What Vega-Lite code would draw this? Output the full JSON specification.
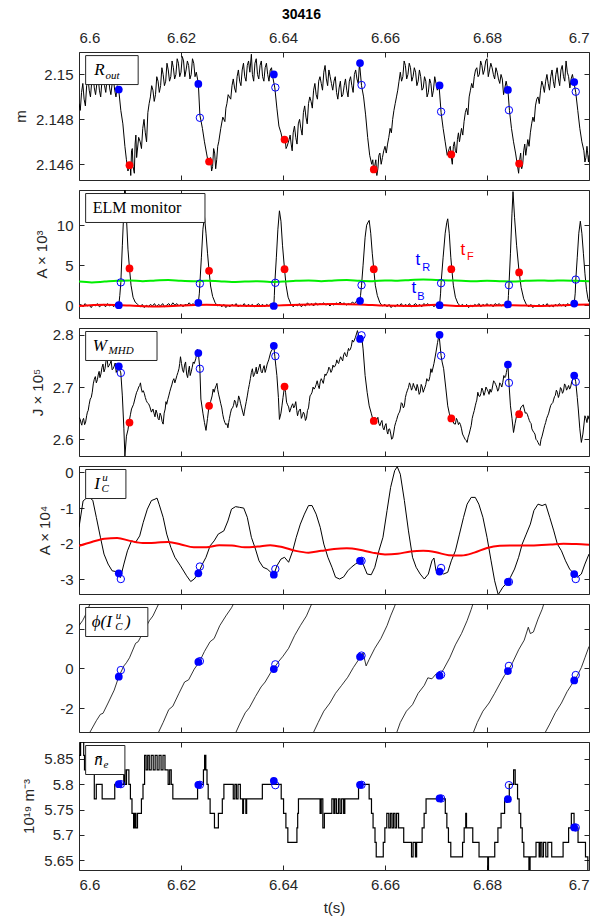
{
"$schema":"https://vega.github.io/schema/vega-lite/v6.json",
"padding":{"left":12,"top":7,"right":5,"bottom":5},
"title":{"text":"30416","font":"Liberation Sans","fontSize":14,"fontWeight":"bold","color":"#000000","anchor":"middle","offset":8},
"spacing":10,
"bounds":"flush",
"datasets":{
"p1":[{"t":6.6,"v":2.1487},{"t":6.6005,"v":2.1492},{"t":6.601,"v":2.1489},{"t":6.6015,"v":2.1495},{"t":6.602,"v":2.1493},{"t":6.6025,"v":2.1497},{"t":6.603,"v":2.1494},{"t":6.6035,"v":2.1496},{"t":6.604,"v":2.1493},{"t":6.6045,"v":2.1497},{"t":6.605,"v":2.1495},{"t":6.6055,"v":2.1498},{"t":6.606,"v":2.1494},{"t":6.6065,"v":2.1496},{"t":6.607,"v":2.1493},{"t":6.6075,"v":2.1495},{"t":6.6078,"v":2.1493},{"t":6.6082,"v":2.1484},{"t":6.6086,"v":2.1478},{"t":6.609,"v":2.1468},{"t":6.6093,"v":2.1462},{"t":6.6096,"v":2.1457},{"t":6.61,"v":2.1461},{"t":6.6103,"v":2.1466},{"t":6.6106,"v":2.1459},{"t":6.611,"v":2.1469},{"t":6.6113,"v":2.1463},{"t":6.6117,"v":2.1472},{"t":6.612,"v":2.147},{"t":6.6125,"v":2.1476},{"t":6.613,"v":2.1474},{"t":6.6135,"v":2.1483},{"t":6.614,"v":2.149},{"t":6.6145,"v":2.1493},{"t":6.615,"v":2.1491},{"t":6.6155,"v":2.1497},{"t":6.616,"v":2.1495},{"t":6.6165,"v":2.15},{"t":6.617,"v":2.1497},{"t":6.6175,"v":2.1502},{"t":6.618,"v":2.1499},{"t":6.6185,"v":2.1503},{"t":6.619,"v":2.15},{"t":6.6195,"v":2.1505},{"t":6.62,"v":2.1501},{"t":6.6205,"v":2.1506},{"t":6.621,"v":2.1502},{"t":6.6215,"v":2.1504},{"t":6.622,"v":2.15},{"t":6.6225,"v":2.1505},{"t":6.623,"v":2.1501},{"t":6.6234,"v":2.1496},{"t":6.6237,"v":2.1482},{"t":6.6242,"v":2.1476},{"t":6.6246,"v":2.147},{"t":6.625,"v":2.1465},{"t":6.6254,"v":2.146},{"t":6.6258,"v":2.1463},{"t":6.6262,"v":2.1459},{"t":6.6266,"v":2.1465},{"t":6.627,"v":2.1462},{"t":6.6274,"v":2.147},{"t":6.6278,"v":2.1476},{"t":6.6282,"v":2.1481},{"t":6.6286,"v":2.1479},{"t":6.629,"v":2.1487},{"t":6.6295,"v":2.149},{"t":6.63,"v":2.1495},{"t":6.6305,"v":2.1494},{"t":6.631,"v":2.1499},{"t":6.6315,"v":2.1497},{"t":6.632,"v":2.1502},{"t":6.6325,"v":2.1499},{"t":6.633,"v":2.1504},{"t":6.6335,"v":2.1501},{"t":6.6338,"v":2.1509},{"t":6.634,"v":2.15},{"t":6.6345,"v":2.1505},{"t":6.635,"v":2.15},{"t":6.6355,"v":2.1504},{"t":6.636,"v":2.1499},{"t":6.6365,"v":2.1503},{"t":6.637,"v":2.15},{"t":6.6375,"v":2.1502},{"t":6.6379,"v":2.15},{"t":6.6384,"v":2.1494},{"t":6.6388,"v":2.1485},{"t":6.6392,"v":2.1477},{"t":6.6396,"v":2.1474},{"t":6.64,"v":2.147},{"t":6.6404,"v":2.1472},{"t":6.6408,"v":2.1468},{"t":6.6412,"v":2.1471},{"t":6.6416,"v":2.1469},{"t":6.642,"v":2.1474},{"t":6.6425,"v":2.1472},{"t":6.643,"v":2.1478},{"t":6.6435,"v":2.1476},{"t":6.644,"v":2.1483},{"t":6.6445,"v":2.1481},{"t":6.645,"v":2.1487},{"t":6.6455,"v":2.1488},{"t":6.646,"v":2.1493},{"t":6.6465,"v":2.1491},{"t":6.647,"v":2.1497},{"t":6.6475,"v":2.1496},{"t":6.648,"v":2.1501},{"t":6.6485,"v":2.1498},{"t":6.649,"v":2.1502},{"t":6.6495,"v":2.1496},{"t":6.65,"v":2.1497},{"t":6.6505,"v":2.1492},{"t":6.651,"v":2.1494},{"t":6.6515,"v":2.149},{"t":6.652,"v":2.1495},{"t":6.6525,"v":2.1493},{"t":6.653,"v":2.1497},{"t":6.6535,"v":2.1495},{"t":6.654,"v":2.15},{"t":6.6545,"v":2.1498},{"t":6.655,"v":2.1505},{"t":6.6554,"v":2.1495},{"t":6.6558,"v":2.149},{"t":6.6562,"v":2.1482},{"t":6.6566,"v":2.1472},{"t":6.657,"v":2.1464},{"t":6.6574,"v":2.146},{"t":6.6578,"v":2.1457},{"t":6.6582,"v":2.1462},{"t":6.6586,"v":2.1458},{"t":6.659,"v":2.1465},{"t":6.6595,"v":2.1463},{"t":6.66,"v":2.1468},{"t":6.6605,"v":2.1469},{"t":6.661,"v":2.1476},{"t":6.6615,"v":2.148},{"t":6.662,"v":2.1487},{"t":6.6625,"v":2.1493},{"t":6.663,"v":2.1501},{"t":6.6635,"v":2.1499},{"t":6.664,"v":2.1504},{"t":6.6645,"v":2.15},{"t":6.665,"v":2.1503},{"t":6.6655,"v":2.1499},{"t":6.666,"v":2.1501},{"t":6.6665,"v":2.1497},{"t":6.667,"v":2.1499},{"t":6.6675,"v":2.1494},{"t":6.668,"v":2.1497},{"t":6.6685,"v":2.1492},{"t":6.669,"v":2.1496},{"t":6.6695,"v":2.1493},{"t":6.67,"v":2.1496},{"t":6.6706,"v":2.1495},{"t":6.671,"v":2.1483},{"t":6.6714,"v":2.1476},{"t":6.6718,"v":2.147},{"t":6.6722,"v":2.1464},{"t":6.6726,"v":2.1467},{"t":6.673,"v":2.1463},{"t":6.6734,"v":2.1468},{"t":6.6738,"v":2.1466},{"t":6.6742,"v":2.1471},{"t":6.6746,"v":2.147},{"t":6.675,"v":2.1476},{"t":6.6755,"v":2.1479},{"t":6.676,"v":2.1485},{"t":6.6765,"v":2.149},{"t":6.677,"v":2.1496},{"t":6.6775,"v":2.1499},{"t":6.678,"v":2.1503},{"t":6.6785,"v":2.15},{"t":6.679,"v":2.1504},{"t":6.6795,"v":2.1502},{"t":6.68,"v":2.1507},{"t":6.6805,"v":2.1502},{"t":6.681,"v":2.1503},{"t":6.6815,"v":2.1498},{"t":6.682,"v":2.1501},{"t":6.6825,"v":2.1496},{"t":6.683,"v":2.1498},{"t":6.6835,"v":2.1494},{"t":6.6841,"v":2.1493},{"t":6.6844,"v":2.1484},{"t":6.6848,"v":2.1476},{"t":6.6852,"v":2.147},{"t":6.6856,"v":2.1465},{"t":6.686,"v":2.1459},{"t":6.6864,"v":2.1462},{"t":6.6868,"v":2.1458},{"t":6.6872,"v":2.1466},{"t":6.6876,"v":2.1464},{"t":6.688,"v":2.1471},{"t":6.6885,"v":2.1474},{"t":6.689,"v":2.1481},{"t":6.6895,"v":2.1486},{"t":6.69,"v":2.149},{"t":6.6905,"v":2.1493},{"t":6.691,"v":2.1495},{"t":6.6915,"v":2.1497},{"t":6.692,"v":2.1496},{"t":6.6925,"v":2.1499},{"t":6.693,"v":2.1497},{"t":6.6935,"v":2.15},{"t":6.694,"v":2.1498},{"t":6.6945,"v":2.1502},{"t":6.695,"v":2.1499},{"t":6.6955,"v":2.1506},{"t":6.696,"v":2.1499},{"t":6.6965,"v":2.1498},{"t":6.697,"v":2.1497},{"t":6.6974,"v":2.1492},{"t":6.6978,"v":2.1484},{"t":6.6982,"v":2.1476},{"t":6.6986,"v":2.147},{"t":6.699,"v":2.1466},{"t":6.6994,"v":2.1463},{"t":6.6997,"v":2.1466},{"t":6.7,"v":2.1464},
{"t":6.60025,"v":2.1484},{"t":6.60075,"v":2.1496},{"t":6.60125,"v":2.1486},{"t":6.60175,"v":2.1499},{"t":6.60225,"v":2.149},{"t":6.60275,"v":2.15},{"t":6.60325,"v":2.1491},{"t":6.60375,"v":2.1499},{"t":6.60425,"v":2.149},{"t":6.60475,"v":2.15},{"t":6.60525,"v":2.1492},{"t":6.60575,"v":2.1501},{"t":6.60625,"v":2.1491},{"t":6.60675,"v":2.1498},{"t":6.60725,"v":2.149},
{"t":6.61015,"v":2.1455},{"t":6.61045,"v":2.1467},{"t":6.61085,"v":2.1456},{"t":6.61115,"v":2.1473},{"t":6.61225,"v":2.1467},{"t":6.61275,"v":2.148},{"t":6.61325,"v":2.147},{"t":6.61375,"v":2.1487},
{"t":6.61425,"v":2.1495},{"t":6.61475,"v":2.1488},{"t":6.61525,"v":2.1499},{"t":6.61575,"v":2.1492},{"t":6.61625,"v":2.1503},{"t":6.61675,"v":2.1495},{"t":6.61725,"v":2.1505},{"t":6.61775,"v":2.1497},{"t":6.61825,"v":2.1506},{"t":6.61875,"v":2.1498},{"t":6.61925,"v":2.1507},{"t":6.61975,"v":2.1499},{"t":6.62025,"v":2.1508},{"t":6.62075,"v":2.1499},{"t":6.62125,"v":2.1506},{"t":6.62175,"v":2.1498},{"t":6.62225,"v":2.1507},{"t":6.62275,"v":2.1499},
{"t":6.626,"v":2.1457},{"t":6.6264,"v":2.1467},{"t":6.6268,"v":2.1458},{"t":6.6272,"v":2.1468},{"t":6.6288,"v":2.1485},{"t":6.62925,"v":2.1491},{"t":6.62975,"v":2.1489},{"t":6.63025,"v":2.1498},{"t":6.63075,"v":2.1492},{"t":6.63125,"v":2.1502},{"t":6.63175,"v":2.1495},{"t":6.63225,"v":2.1505},{"t":6.63275,"v":2.1497},{"t":6.63325,"v":2.1506},{"t":6.63425,"v":2.1497},{"t":6.63475,"v":2.1507},{"t":6.63525,"v":2.1498},{"t":6.63575,"v":2.1506},{"t":6.63625,"v":2.1497},{"t":6.63675,"v":2.1505},{"t":6.63725,"v":2.1497},{"t":6.63775,"v":2.1503},
{"t":6.6406,"v":2.1467},{"t":6.6414,"v":2.1473},{"t":6.6418,"v":2.1466},{"t":6.64225,"v":2.1477},{"t":6.64275,"v":2.1469},{"t":6.64325,"v":2.148},{"t":6.64375,"v":2.1473},{"t":6.64425,"v":2.1486},{"t":6.64475,"v":2.1478},{"t":6.64525,"v":2.149},{"t":6.64575,"v":2.1485},{"t":6.64625,"v":2.1496},{"t":6.64675,"v":2.1489},{"t":6.64725,"v":2.1499},{"t":6.64775,"v":2.1493},{"t":6.64825,"v":2.1504},{"t":6.64875,"v":2.1495},{"t":6.64925,"v":2.1499},{"t":6.64975,"v":2.1493},{"t":6.65025,"v":2.1499},{"t":6.65075,"v":2.1489},{"t":6.65125,"v":2.1497},{"t":6.65175,"v":2.1491},{"t":6.65225,"v":2.1498},{"t":6.65275,"v":2.149},{"t":6.65325,"v":2.1499},{"t":6.65375,"v":2.1492},{"t":6.65425,"v":2.1502},{"t":6.65475,"v":2.1496},
{"t":6.6576,"v":2.1462},{"t":6.6584,"v":2.1455},{"t":6.6588,"v":2.1464},{"t":6.65925,"v":2.146},{"t":6.65975,"v":2.1466},{"t":6.66025,"v":2.1465},{"t":6.66075,"v":2.1472},{"t":6.66125,"v":2.1474},{"t":6.66175,"v":2.1484},{"t":6.66225,"v":2.149},{"t":6.66275,"v":2.1497},{"t":6.66325,"v":2.1497},{"t":6.66375,"v":2.1506},{"t":6.66425,"v":2.1498},{"t":6.66475,"v":2.1505},{"t":6.66525,"v":2.1497},{"t":6.66575,"v":2.1503},{"t":6.66625,"v":2.1495},{"t":6.66675,"v":2.1502},{"t":6.66725,"v":2.1493},{"t":6.66775,"v":2.1499},{"t":6.66825,"v":2.149},{"t":6.66875,"v":2.1498},{"t":6.66925,"v":2.149},{"t":6.66975,"v":2.1499},{"t":6.67025,"v":2.1493},
{"t":6.6728,"v":2.1468},{"t":6.6732,"v":2.146},{"t":6.6736,"v":2.147},{"t":6.674,"v":2.1465},{"t":6.6744,"v":2.1474},{"t":6.67525,"v":2.1473},{"t":6.67575,"v":2.1483},{"t":6.67625,"v":2.1482},{"t":6.67675,"v":2.1493},{"t":6.67725,"v":2.1494},{"t":6.67775,"v":2.1502},{"t":6.67825,"v":2.1499},{"t":6.67875,"v":2.1506},{"t":6.67925,"v":2.15},{"t":6.67975,"v":2.1506},{"t":6.68025,"v":2.1499},{"t":6.68075,"v":2.1505},{"t":6.68125,"v":2.15},{"t":6.68175,"v":2.1503},{"t":6.68225,"v":2.1498},{"t":6.68275,"v":2.15},{"t":6.68325,"v":2.1491},{"t":6.68375,"v":2.1497},
{"t":6.6862,"v":2.1456},{"t":6.6866,"v":2.1465},{"t":6.687,"v":2.146},{"t":6.6874,"v":2.1469},{"t":6.68825,"v":2.1468},{"t":6.68875,"v":2.1478},{"t":6.68925,"v":2.1479},{"t":6.68975,"v":2.1489},{"t":6.69025,"v":2.1487},{"t":6.69075,"v":2.1497},{"t":6.69125,"v":2.1492},{"t":6.69175,"v":2.15},{"t":6.69225,"v":2.1493},{"t":6.69275,"v":2.1502},{"t":6.69325,"v":2.1494},{"t":6.69375,"v":2.1503},{"t":6.69425,"v":2.1495},{"t":6.69475,"v":2.1504},{"t":6.69525,"v":2.1497},{"t":6.69575,"v":2.1501},{"t":6.69625,"v":2.1494},{"t":6.69675,"v":2.15},
{"t":6.6992,"v":2.1461},{"t":6.6996,"v":2.1468},{"t":6.6999,"v":2.1461}],
"p2":[{"t":6.6,"v":-0.1},{"t":6.6004,"v":0.1},{"t":6.6008,"v":-0.2},{"t":6.6012,"v":0.2},{"t":6.6016,"v":-0.1},{"t":6.602,"v":0.0},{"t":6.6024,"v":-0.3},{"t":6.6028,"v":0.1},{"t":6.6032,"v":-0.1},{"t":6.6036,"v":0.2},{"t":6.604,"v":-0.2},{"t":6.6044,"v":0.0},{"t":6.6048,"v":0.1},{"t":6.6052,"v":-0.2},{"t":6.6056,"v":0.2},{"t":6.606,"v":-0.1},{"t":6.6064,"v":0.1},{"t":6.6068,"v":-0.2},{"t":6.6072,"v":0.2},{"t":6.6075,"v":-0.1},
{"t":6.6078,"v":0.0},{"t":6.608,"v":1.2},{"t":6.6082,"v":2.8},{"t":6.6085,"v":7.5},{"t":6.6088,"v":12},{"t":6.609,"v":15.5},{"t":6.6093,"v":11},{"t":6.6096,"v":7},{"t":6.6099,"v":4.6},{"t":6.6102,"v":2.5},{"t":6.6106,"v":1.0},{"t":6.611,"v":0.4},{"t":6.6115,"v":0.1},
{"t":6.612,"v":-0.2},{"t":6.6124,"v":0.1},{"t":6.6128,"v":-0.3},{"t":6.6132,"v":0.0},{"t":6.6136,"v":-0.2},{"t":6.614,"v":0.1},{"t":6.6144,"v":-0.1},{"t":6.6148,"v":0.2},{"t":6.6152,"v":-0.2},{"t":6.6156,"v":0.1},{"t":6.616,"v":-0.1},{"t":6.6164,"v":0.2},{"t":6.6168,"v":-0.2},{"t":6.6172,"v":0.0},{"t":6.6176,"v":0.2},{"t":6.618,"v":-0.1},{"t":6.6184,"v":0.3},{"t":6.6188,"v":0.0},{"t":6.6192,"v":0.2},{"t":6.6196,"v":-0.1},{"t":6.62,"v":0.1},{"t":6.6204,"v":-0.2},{"t":6.6208,"v":0.1},{"t":6.6212,"v":0.0},{"t":6.6216,"v":0.3},{"t":6.622,"v":0.0},{"t":6.6224,"v":0.2},{"t":6.6228,"v":-0.1},{"t":6.6231,"v":0.2},
{"t":6.6234,"v":0.3},{"t":6.6236,"v":1.5},{"t":6.6237,"v":2.7},{"t":6.624,"v":6},{"t":6.6243,"v":9.5},{"t":6.6246,"v":11.1},{"t":6.6249,"v":9},{"t":6.6252,"v":6.5},{"t":6.6255,"v":4.3},{"t":6.6258,"v":2.4},{"t":6.6262,"v":1.1},{"t":6.6267,"v":0.3},
{"t":6.6272,"v":-0.1},{"t":6.6276,"v":0.1},{"t":6.628,"v":-0.2},{"t":6.6284,"v":0.1},{"t":6.6288,"v":-0.3},{"t":6.6292,"v":0.0},{"t":6.6296,"v":-0.2},{"t":6.63,"v":0.1},{"t":6.6304,"v":-0.1},{"t":6.6308,"v":0.2},{"t":6.6312,"v":-0.2},{"t":6.6316,"v":0.0},{"t":6.632,"v":-0.1},{"t":6.6324,"v":0.2},{"t":6.6328,"v":-0.2},{"t":6.6332,"v":0.1},{"t":6.6336,"v":-0.1},{"t":6.634,"v":0.1},{"t":6.6344,"v":-0.2},{"t":6.6348,"v":0.0},{"t":6.6352,"v":0.2},{"t":6.6356,"v":-0.1},{"t":6.636,"v":0.1},{"t":6.6364,"v":-0.2},{"t":6.6368,"v":0.1},{"t":6.6372,"v":-0.1},{"t":6.6376,"v":0.2},{"t":6.6379,"v":-0.1},
{"t":6.6382,"v":-0.1},{"t":6.6383,"v":1.2},{"t":6.6384,"v":2.8},{"t":6.6387,"v":6},{"t":6.639,"v":9.5},{"t":6.6393,"v":11.8},{"t":6.6396,"v":10.5},{"t":6.6399,"v":7.5},{"t":6.6403,"v":4.5},{"t":6.6406,"v":2.5},{"t":6.641,"v":1.0},{"t":6.6415,"v":0.2},
{"t":6.642,"v":-0.2},{"t":6.6424,"v":0.1},{"t":6.6428,"v":-0.1},{"t":6.6432,"v":0.2},{"t":6.6436,"v":-0.2},{"t":6.644,"v":0.1},{"t":6.6444,"v":-0.1},{"t":6.6448,"v":0.3},{"t":6.6452,"v":0.0},{"t":6.6456,"v":0.2},{"t":6.646,"v":-0.1},{"t":6.6464,"v":0.3},{"t":6.6468,"v":0.0},{"t":6.6472,"v":0.2},{"t":6.6476,"v":0.1},{"t":6.648,"v":0.3},{"t":6.6484,"v":0.0},{"t":6.6488,"v":0.2},{"t":6.6492,"v":-0.1},{"t":6.6496,"v":0.2},{"t":6.65,"v":0.0},{"t":6.6504,"v":0.3},{"t":6.6508,"v":0.1},{"t":6.6512,"v":0.4},{"t":6.6516,"v":0.1},{"t":6.652,"v":0.3},{"t":6.6524,"v":0.0},{"t":6.6528,"v":0.2},{"t":6.6532,"v":0.1},{"t":6.6536,"v":0.4},{"t":6.654,"v":0.2},{"t":6.6544,"v":0.5},{"t":6.6547,"v":0.3},
{"t":6.655,"v":0.5},{"t":6.6552,"v":1.2},{"t":6.6554,"v":2.5},{"t":6.6557,"v":5},{"t":6.6561,"v":8.5},{"t":6.6564,"v":10},{"t":6.6567,"v":10.4},{"t":6.6569,"v":10.6},{"t":6.6572,"v":9},{"t":6.6575,"v":6.5},{"t":6.6578,"v":4.5},{"t":6.6581,"v":2.5},{"t":6.6585,"v":1.2},{"t":6.659,"v":0.3},
{"t":6.6595,"v":-0.1},{"t":6.66,"v":0.1},{"t":6.6604,"v":-0.2},{"t":6.6608,"v":0.1},{"t":6.6612,"v":-0.3},{"t":6.6616,"v":0.0},{"t":6.662,"v":-0.2},{"t":6.6624,"v":0.1},{"t":6.6628,"v":-0.1},{"t":6.6632,"v":0.2},{"t":6.6636,"v":-0.2},{"t":6.664,"v":0.1},{"t":6.6644,"v":-0.1},{"t":6.6648,"v":0.2},{"t":6.6652,"v":-0.2},{"t":6.6656,"v":0.0},{"t":6.666,"v":0.2},{"t":6.6664,"v":-0.1},{"t":6.6668,"v":0.1},{"t":6.6672,"v":-0.2},{"t":6.6676,"v":0.2},{"t":6.668,"v":0.0},{"t":6.6684,"v":0.2},{"t":6.6688,"v":-0.1},{"t":6.6692,"v":0.1},{"t":6.6696,"v":-0.2},{"t":6.67,"v":0.1},{"t":6.6704,"v":-0.1},
{"t":6.6707,"v":0.0},{"t":6.6709,"v":1.5},{"t":6.671,"v":2.8},{"t":6.6714,"v":6},{"t":6.6718,"v":9},{"t":6.6721,"v":10.3},{"t":6.6723,"v":10.8},{"t":6.6726,"v":9},{"t":6.6729,"v":6},{"t":6.6731,"v":4.5},{"t":6.6734,"v":2.5},{"t":6.6738,"v":1.0},{"t":6.6743,"v":0.2},
{"t":6.6748,"v":-0.1},{"t":6.6752,"v":0.1},{"t":6.6756,"v":-0.2},{"t":6.676,"v":0.1},{"t":6.6764,"v":-0.3},{"t":6.6768,"v":0.0},{"t":6.6772,"v":-0.2},{"t":6.6776,"v":0.1},{"t":6.678,"v":-0.1},{"t":6.6784,"v":0.2},{"t":6.6788,"v":-0.2},{"t":6.6792,"v":0.1},{"t":6.6796,"v":-0.1},{"t":6.68,"v":0.2},{"t":6.6804,"v":-0.1},{"t":6.6808,"v":0.1},{"t":6.6812,"v":-0.2},{"t":6.6816,"v":0.2},{"t":6.682,"v":0.0},{"t":6.6824,"v":0.2},{"t":6.6828,"v":-0.1},{"t":6.6832,"v":0.1},{"t":6.6836,"v":-0.1},{"t":6.6839,"v":0.2},
{"t":6.6841,"v":0.1},{"t":6.6842,"v":1.2},{"t":6.6843,"v":2.4},{"t":6.6846,"v":6.5},{"t":6.6849,"v":11.5},{"t":6.6851,"v":14.2},{"t":6.6854,"v":11},{"t":6.6858,"v":7.5},{"t":6.6863,"v":4.1},{"t":6.6867,"v":2.2},{"t":6.6872,"v":0.8},{"t":6.6877,"v":0.1},
{"t":6.6882,"v":-0.2},{"t":6.6886,"v":0.1},{"t":6.689,"v":-0.3},{"t":6.6894,"v":0.0},{"t":6.6898,"v":-0.2},{"t":6.6902,"v":0.1},{"t":6.6906,"v":-0.2},{"t":6.691,"v":0.1},{"t":6.6914,"v":-0.1},{"t":6.6918,"v":0.2},{"t":6.6922,"v":-0.2},{"t":6.6926,"v":0.0},{"t":6.693,"v":-0.2},{"t":6.6934,"v":0.1},{"t":6.6938,"v":-0.1},{"t":6.6942,"v":0.2},{"t":6.6946,"v":-0.1},{"t":6.695,"v":0.1},{"t":6.6954,"v":-0.2},{"t":6.6958,"v":0.2},{"t":6.6962,"v":0.0},{"t":6.6966,"v":0.1},{"t":6.6969,"v":-0.1},
{"t":6.6971,"v":0.2},{"t":6.6973,"v":1.5},{"t":6.6974,"v":3.1},{"t":6.6977,"v":6},{"t":6.698,"v":9},{"t":6.6983,"v":10.5},{"t":6.6986,"v":9},{"t":6.6989,"v":6.5},{"t":6.6992,"v":4},{"t":6.6995,"v":2},{"t":6.6998,"v":0.8},{"t":6.7,"v":0.4}],
"p2g":[{"t":6.6,"v":2.95},{"t":6.6025,"v":2.85},{"t":6.605,"v":2.95},{"t":6.6075,"v":3.05},{"t":6.61,"v":3.1},{"t":6.6125,"v":3.0},{"t":6.615,"v":3.1},{"t":6.6175,"v":3.15},{"t":6.62,"v":3.05},{"t":6.6225,"v":3.0},{"t":6.625,"v":3.05},{"t":6.6275,"v":3.0},{"t":6.63,"v":2.9},{"t":6.6325,"v":2.95},{"t":6.635,"v":3.0},{"t":6.6375,"v":2.9},{"t":6.64,"v":2.95},{"t":6.6425,"v":3.05},{"t":6.645,"v":3.1},{"t":6.6475,"v":3.0},{"t":6.65,"v":3.1},{"t":6.6525,"v":3.15},{"t":6.655,"v":3.05},{"t":6.6575,"v":3.0},{"t":6.66,"v":3.1},{"t":6.6625,"v":3.05},{"t":6.665,"v":3.15},{"t":6.6675,"v":3.2},{"t":6.67,"v":3.15},{"t":6.6725,"v":3.1},{"t":6.675,"v":3.05},{"t":6.6775,"v":3.0},{"t":6.68,"v":3.05},{"t":6.6825,"v":3.0},{"t":6.685,"v":2.95},{"t":6.6875,"v":3.05},{"t":6.69,"v":3.1},{"t":6.6925,"v":3.05},{"t":6.695,"v":3.1},{"t":6.6975,"v":3.05},{"t":6.7,"v":3.0}],
"p2r":[{"t":6.6,"v":-0.1},{"t":6.605,"v":0.05},{"t":6.61,"v":-0.05},{"t":6.615,"v":-0.15},{"t":6.62,"v":-0.05},{"t":6.625,"v":0.05},{"t":6.63,"v":-0.05},{"t":6.635,"v":-0.1},{"t":6.64,"v":0.0},{"t":6.645,"v":0.1},{"t":6.65,"v":0.15},{"t":6.655,"v":0.1},{"t":6.66,"v":-0.05},{"t":6.665,"v":-0.1},{"t":6.67,"v":0.05},{"t":6.675,"v":-0.1},{"t":6.68,"v":-0.05},{"t":6.685,"v":0.0},{"t":6.69,"v":-0.1},{"t":6.695,"v":0.0},{"t":6.7,"v":0.1}],
"p3":[{"t":6.6,"v":2.642},{"t":6.6004,"v":2.631},{"t":6.6007,"v":2.636},{"t":6.6011,"v":2.628},{"t":6.6015,"v":2.645},{"t":6.6018,"v":2.655},{"t":6.6022,"v":2.677},{"t":6.6026,"v":2.69},{"t":6.603,"v":2.715},{"t":6.6034,"v":2.708},{"t":6.6038,"v":2.725},{"t":6.6041,"v":2.718},{"t":6.6045,"v":2.737},{"t":6.6049,"v":2.729},{"t":6.6053,"v":2.75},{"t":6.6057,"v":2.738},{"t":6.6061,"v":2.745},{"t":6.6065,"v":2.733},{"t":6.6069,"v":2.74},{"t":6.6073,"v":2.728},{"t":6.6078,"v":2.738},{"t":6.6082,"v":2.727},{"t":6.6085,"v":2.683},{"t":6.6088,"v":2.62},{"t":6.609,"v":2.568},{"t":6.6093,"v":2.606},{"t":6.6096,"v":2.618},{"t":6.6098,"v":2.632},{"t":6.6101,"v":2.648},{"t":6.6103,"v":2.658},{"t":6.6107,"v":2.667},{"t":6.6111,"v":2.683},{"t":6.6115,"v":2.694},{"t":6.6119,"v":2.703},{"t":6.6122,"v":2.698},{"t":6.6126,"v":2.693},{"t":6.613,"v":2.68},{"t":6.6134,"v":2.67},{"t":6.6139,"v":2.662},{"t":6.6145,"v":2.658},{"t":6.6149,"v":2.643},{"t":6.6153,"v":2.65},{"t":6.6157,"v":2.637},{"t":6.6161,"v":2.645},{"t":6.6165,"v":2.629},{"t":6.6169,"v":2.658},{"t":6.6172,"v":2.667},{"t":6.6176,"v":2.683},{"t":6.618,"v":2.698},{"t":6.6184,"v":2.712},{"t":6.6188,"v":2.708},{"t":6.6192,"v":2.722},{"t":6.6196,"v":2.735},{"t":6.6199,"v":2.758},{"t":6.6203,"v":2.733},{"t":6.6207,"v":2.742},{"t":6.6211,"v":2.725},{"t":6.6215,"v":2.733},{"t":6.6218,"v":2.722},{"t":6.6222,"v":2.738},{"t":6.6226,"v":2.745},{"t":6.6229,"v":2.754},{"t":6.6232,"v":2.772},{"t":6.6234,"v":2.765},{"t":6.6237,"v":2.735},{"t":6.6239,"v":2.677},{"t":6.6243,"v":2.65},{"t":6.6246,"v":2.632},{"t":6.6249,"v":2.617},{"t":6.6252,"v":2.64},{"t":6.6255,"v":2.664},{"t":6.6258,"v":2.672},{"t":6.6261,"v":2.683},{"t":6.6265,"v":2.69},{"t":6.6269,"v":2.703},{"t":6.6272,"v":2.695},{"t":6.6276,"v":2.677},{"t":6.628,"v":2.66},{"t":6.6284,"v":2.638},{"t":6.6288,"v":2.628},{"t":6.6292,"v":2.622},{"t":6.6295,"v":2.64},{"t":6.6299,"v":2.658},{"t":6.6303,"v":2.665},{"t":6.6307,"v":2.671},{"t":6.6311,"v":2.668},{"t":6.6315,"v":2.677},{"t":6.6319,"v":2.66},{"t":6.6323,"v":2.645},{"t":6.6326,"v":2.662},{"t":6.633,"v":2.683},{"t":6.6334,"v":2.705},{"t":6.6338,"v":2.728},{"t":6.6342,"v":2.72},{"t":6.6346,"v":2.731},{"t":6.6349,"v":2.725},{"t":6.6353,"v":2.738},{"t":6.6357,"v":2.73},{"t":6.6361,"v":2.735},{"t":6.6365,"v":2.728},{"t":6.6369,"v":2.744},{"t":6.6372,"v":2.752},{"t":6.6376,"v":2.767},{"t":6.6379,"v":2.772},{"t":6.6382,"v":2.779},{"t":6.6384,"v":2.759},{"t":6.6386,"v":2.74},{"t":6.6388,"v":2.722},{"t":6.6391,"v":2.68},{"t":6.6393,"v":2.638},{"t":6.6396,"v":2.65},{"t":6.6398,"v":2.664},{"t":6.64,"v":2.68},{"t":6.6403,"v":2.701},{"t":6.6405,"v":2.69},{"t":6.6407,"v":2.671},{"t":6.6411,"v":2.662},{"t":6.6415,"v":2.658},{"t":6.6419,"v":2.668},{"t":6.6423,"v":2.664},{"t":6.6427,"v":2.655},{"t":6.643,"v":2.651},{"t":6.6434,"v":2.658},{"t":6.6438,"v":2.645},{"t":6.6442,"v":2.648},{"t":6.6446,"v":2.64},{"t":6.645,"v":2.66},{"t":6.6453,"v":2.683},{"t":6.6457,"v":2.69},{"t":6.6461,"v":2.696},{"t":6.6465,"v":2.705},{"t":6.6469,"v":2.703},{"t":6.6473,"v":2.71},{"t":6.6477,"v":2.712},{"t":6.6481,"v":2.718},{"t":6.6484,"v":2.722},{"t":6.6488,"v":2.73},{"t":6.6492,"v":2.735},{"t":6.6496,"v":2.732},{"t":6.65,"v":2.738},{"t":6.6504,"v":2.745},{"t":6.6507,"v":2.747},{"t":6.6511,"v":2.752},{"t":6.6515,"v":2.754},{"t":6.6519,"v":2.762},{"t":6.6523,"v":2.76},{"t":6.6527,"v":2.768},{"t":6.653,"v":2.77},{"t":6.6534,"v":2.778},{"t":6.6538,"v":2.786},{"t":6.6542,"v":2.795},{"t":6.6546,"v":2.808},{"t":6.655,"v":2.792},{"t":6.6554,"v":2.799},{"t":6.6557,"v":2.773},{"t":6.6561,"v":2.722},{"t":6.6565,"v":2.69},{"t":6.6569,"v":2.664},{"t":6.6573,"v":2.65},{"t":6.6577,"v":2.635},{"t":6.658,"v":2.642},{"t":6.6584,"v":2.638},{"t":6.6588,"v":2.63},{"t":6.6592,"v":2.632},{"t":6.6596,"v":2.622},{"t":6.66,"v":2.626},{"t":6.6604,"v":2.615},{"t":6.6607,"v":2.619},{"t":6.6611,"v":2.612},{"t":6.6615,"v":2.602},{"t":6.6619,"v":2.625},{"t":6.6623,"v":2.638},{"t":6.6627,"v":2.65},{"t":6.663,"v":2.658},{"t":6.6634,"v":2.668},{"t":6.6638,"v":2.664},{"t":6.6642,"v":2.688},{"t":6.6646,"v":2.699},{"t":6.665,"v":2.703},{"t":6.6654,"v":2.699},{"t":6.6657,"v":2.702},{"t":6.6661,"v":2.693},{"t":6.6665,"v":2.698},{"t":6.6669,"v":2.69},{"t":6.6673,"v":2.7},{"t":6.6677,"v":2.696},{"t":6.668,"v":2.705},{"t":6.6684,"v":2.712},{"t":6.6688,"v":2.72},{"t":6.6692,"v":2.728},{"t":6.6696,"v":2.745},{"t":6.67,"v":2.767},{"t":6.6703,"v":2.785},{"t":6.6706,"v":2.8},{"t":6.671,"v":2.76},{"t":6.6712,"v":2.748},{"t":6.6715,"v":2.735},{"t":6.6719,"v":2.7},{"t":6.6723,"v":2.664},{"t":6.6726,"v":2.65},{"t":6.6729,"v":2.64},{"t":6.6733,"v":2.636},{"t":6.6738,"v":2.629},{"t":6.6742,"v":2.636},{"t":6.6746,"v":2.632},{"t":6.675,"v":2.62},{"t":6.6754,"v":2.606},{"t":6.6757,"v":2.6},{"t":6.6761,"v":2.594},{"t":6.6765,"v":2.61},{"t":6.6769,"v":2.626},{"t":6.6773,"v":2.648},{"t":6.6777,"v":2.664},{"t":6.678,"v":2.675},{"t":6.6784,"v":2.683},{"t":6.6788,"v":2.688},{"t":6.6792,"v":2.693},{"t":6.6796,"v":2.69},{"t":6.68,"v":2.696},{"t":6.6804,"v":2.686},{"t":6.6808,"v":2.69},{"t":6.6811,"v":2.702},{"t":6.6815,"v":2.709},{"t":6.6819,"v":2.7},{"t":6.6823,"v":2.696},{"t":6.6827,"v":2.705},{"t":6.6831,"v":2.709},{"t":6.6835,"v":2.718},{"t":6.6838,"v":2.728},{"t":6.6841,"v":2.743},{"t":6.6843,"v":2.708},{"t":6.6846,"v":2.664},{"t":6.6849,"v":2.64},{"t":6.6852,"v":2.613},{"t":6.6855,"v":2.63},{"t":6.6858,"v":2.645},{"t":6.686,"v":2.65},{"t":6.6863,"v":2.648},{"t":6.6866,"v":2.66},{"t":6.6869,"v":2.664},{"t":6.6873,"v":2.658},{"t":6.6877,"v":2.651},{"t":6.6881,"v":2.642},{"t":6.6885,"v":2.632},{"t":6.6888,"v":2.62},{"t":6.6892,"v":2.613},{"t":6.6896,"v":2.6},{"t":6.69,"v":2.594},{"t":6.6904,"v":2.588},{"t":6.6908,"v":2.606},{"t":6.6911,"v":2.618},{"t":6.6915,"v":2.632},{"t":6.6919,"v":2.645},{"t":6.6923,"v":2.658},{"t":6.6927,"v":2.668},{"t":6.6931,"v":2.677},{"t":6.6934,"v":2.684},{"t":6.6938,"v":2.69},{"t":6.6942,"v":2.686},{"t":6.6946,"v":2.696},{"t":6.695,"v":2.692},{"t":6.6954,"v":2.703},{"t":6.6958,"v":2.698},{"t":6.6962,"v":2.696},{"t":6.6966,"v":2.71},{"t":6.6969,"v":2.718},{"t":6.6971,"v":2.722},{"t":6.6974,"v":2.71},{"t":6.6977,"v":2.68},{"t":6.6979,"v":2.658},{"t":6.6982,"v":2.62},{"t":6.6985,"v":2.594},{"t":6.6988,"v":2.61},{"t":6.6992,"v":2.645},{"t":6.6996,"v":2.632},{"t":6.7,"v":2.638},
{"t":6.60025,"v":2.638},{"t":6.60055,"v":2.627},{"t":6.6009,"v":2.64},{"t":6.6013,"v":2.633},{"t":6.60165,"v":2.652},{"t":6.602,"v":2.667},{"t":6.6024,"v":2.68},{"t":6.6028,"v":2.706},{"t":6.6032,"v":2.72},{"t":6.6036,"v":2.714},{"t":6.60395,"v":2.73},{"t":6.6043,"v":2.725},{"t":6.6047,"v":2.744},{"t":6.6051,"v":2.735},{"t":6.6055,"v":2.755},{"t":6.6059,"v":2.741},{"t":6.6063,"v":2.75},{"t":6.6067,"v":2.735},{"t":6.6071,"v":2.746},{"t":6.60755,"v":2.734},
{"t":6.6113,"v":2.69},{"t":6.6117,"v":2.7},{"t":6.61205,"v":2.708},{"t":6.6124,"v":2.69},{"t":6.6128,"v":2.688},{"t":6.6132,"v":2.674},{"t":6.61365,"v":2.668},{"t":6.6142,"v":2.652},{"t":6.6147,"v":2.65},{"t":6.6151,"v":2.656},{"t":6.6155,"v":2.64},{"t":6.6159,"v":2.65},{"t":6.6163,"v":2.634},{"t":6.6167,"v":2.65},{"t":6.61705,"v":2.672},{"t":6.6174,"v":2.676},{"t":6.6178,"v":2.691},{"t":6.6182,"v":2.704},{"t":6.6186,"v":2.716},{"t":6.619,"v":2.715},{"t":6.6194,"v":2.728},{"t":6.61975,"v":2.745},{"t":6.6201,"v":2.745},{"t":6.6205,"v":2.728},{"t":6.6209,"v":2.748},{"t":6.6213,"v":2.718},{"t":6.62165,"v":2.74},{"t":6.622,"v":2.729},{"t":6.6224,"v":2.748},
{"t":6.6263,"v":2.696},{"t":6.6267,"v":2.698},{"t":6.62705,"v":2.707},{"t":6.6274,"v":2.685},{"t":6.6278,"v":2.668},{"t":6.6282,"v":2.647},{"t":6.6286,"v":2.632},{"t":6.629,"v":2.63},{"t":6.62935,"v":2.632},{"t":6.6297,"v":2.65},{"t":6.6301,"v":2.66},{"t":6.6305,"v":2.675},{"t":6.6309,"v":2.661},{"t":6.6313,"v":2.683},{"t":6.6317,"v":2.668},{"t":6.6321,"v":2.652},{"t":6.63245,"v":2.654},{"t":6.6328,"v":2.672},{"t":6.6332,"v":2.695},{"t":6.6336,"v":2.716},{"t":6.634,"v":2.735},{"t":6.6344,"v":2.724},{"t":6.63475,"v":2.738},{"t":6.6351,"v":2.731},{"t":6.6355,"v":2.744},{"t":6.6359,"v":2.727},{"t":6.6363,"v":2.741},{"t":6.6367,"v":2.735},{"t":6.63705,"v":2.748},
{"t":6.6409,"v":2.666},{"t":6.6413,"v":2.652},{"t":6.6417,"v":2.664},{"t":6.6421,"v":2.66},{"t":6.6425,"v":2.672},{"t":6.64285,"v":2.645},{"t":6.6432,"v":2.656},{"t":6.6436,"v":2.64},{"t":6.644,"v":2.652},{"t":6.6444,"v":2.636},{"t":6.6448,"v":2.655},{"t":6.64515,"v":2.672},{"t":6.6455,"v":2.686},{"t":6.6459,"v":2.7},{"t":6.6463,"v":2.699},{"t":6.6467,"v":2.712},{"t":6.6471,"v":2.697},{"t":6.6475,"v":2.716},{"t":6.6479,"v":2.707},{"t":6.64825,"v":2.725},{"t":6.6486,"v":2.726},{"t":6.649,"v":2.738},{"t":6.6494,"v":2.728},{"t":6.6498,"v":2.742},{"t":6.6502,"v":2.74},{"t":6.65055,"v":2.752},{"t":6.6509,"v":2.745},{"t":6.6513,"v":2.758},{"t":6.6517,"v":2.75},{"t":6.6521,"v":2.766},{"t":6.6525,"v":2.758},{"t":6.65285,"v":2.774},{"t":6.6532,"v":2.772},{"t":6.6536,"v":2.79},{"t":6.654,"v":2.79},
{"t":6.6586,"v":2.642},{"t":6.659,"v":2.626},{"t":6.6594,"v":2.636},{"t":6.6598,"v":2.618},{"t":6.6602,"v":2.63},{"t":6.66055,"v":2.61},{"t":6.6609,"v":2.62},{"t":6.6613,"v":2.6},{"t":6.6617,"v":2.612},{"t":6.6621,"v":2.632},{"t":6.6625,"v":2.645},{"t":6.66285,"v":2.652},{"t":6.6632,"v":2.67},{"t":6.6636,"v":2.66},{"t":6.664,"v":2.68},{"t":6.6644,"v":2.694},{"t":6.6648,"v":2.708},{"t":6.6652,"v":2.694},{"t":6.66555,"v":2.707},{"t":6.6659,"v":2.698},{"t":6.6663,"v":2.705},{"t":6.6667,"v":2.686},{"t":6.6671,"v":2.705},{"t":6.6675,"v":2.69},{"t":6.66785,"v":2.7},{"t":6.6682,"v":2.716},{"t":6.6686,"v":2.712},{"t":6.669,"v":2.735},
{"t":6.6731,"v":2.642},{"t":6.6735,"v":2.63},{"t":6.674,"v":2.64},{"t":6.6744,"v":2.628},{"t":6.6748,"v":2.628},{"t":6.6752,"v":2.61},{"t":6.6759,"v":2.598},{"t":6.6763,"v":2.604},{"t":6.6767,"v":2.618},{"t":6.6771,"v":2.64},{"t":6.6775,"v":2.655},{"t":6.67785,"v":2.67},{"t":6.6782,"v":2.69},{"t":6.6786,"v":2.682},{"t":6.679,"v":2.698},{"t":6.6794,"v":2.684},{"t":6.6798,"v":2.7},{"t":6.6802,"v":2.692},{"t":6.6806,"v":2.696},{"t":6.68095,"v":2.694},{"t":6.6813,"v":2.712},{"t":6.6817,"v":2.705},{"t":6.6821,"v":2.692},{"t":6.6825,"v":2.708},{"t":6.6829,"v":2.7},{"t":6.6833,"v":2.722},{"t":6.68365,"v":2.72},
{"t":6.6871,"v":2.666},{"t":6.6875,"v":2.65},{"t":6.6879,"v":2.648},{"t":6.6883,"v":2.636},{"t":6.68865,"v":2.63},{"t":6.689,"v":2.616},{"t":6.6894,"v":2.61},{"t":6.6898,"v":2.598},{"t":6.6902,"v":2.59},{"t":6.6906,"v":2.6},{"t":6.69095,"v":2.612},{"t":6.6913,"v":2.626},{"t":6.6917,"v":2.64},{"t":6.6921,"v":2.65},{"t":6.6925,"v":2.665},{"t":6.6929,"v":2.67},{"t":6.69325,"v":2.682},{"t":6.6936,"v":2.694},{"t":6.694,"v":2.68},{"t":6.6944,"v":2.699},{"t":6.6948,"v":2.688},{"t":6.6952,"v":2.706},{"t":6.6956,"v":2.694},{"t":6.696,"v":2.703},{"t":6.6964,"v":2.7},
{"t":6.6994,"v":2.64},{"t":6.6998,"v":2.645}],
"p4":[{"t":6.6,"v":-1.54},{"t":6.6008,"v":-0.8},{"t":6.6018,"v":-0.68},{"t":6.6027,"v":-0.78},{"t":6.6034,"v":-1.26},{"t":6.6042,"v":-1.82},{"t":6.6049,"v":-2.29},{"t":6.6057,"v":-2.57},{"t":6.6065,"v":-2.76},{"t":6.6072,"v":-2.78},{"t":6.6078,"v":-2.83},{"t":6.6081,"v":-2.95},{"t":6.6084,"v":-2.8},{"t":6.6088,"v":-2.57},{"t":6.6095,"v":-2.2},{"t":6.6103,"v":-1.92},{"t":6.6111,"v":-1.96},{"t":6.6119,"v":-1.78},{"t":6.6126,"v":-1.4},{"t":6.6134,"v":-1.03},{"t":6.6142,"v":-0.79},{"t":6.6149,"v":-0.75},{"t":6.6153,"v":-0.72},{"t":6.6157,"v":-0.89},{"t":6.6165,"v":-1.26},{"t":6.6172,"v":-1.73},{"t":6.618,"v":-2.1},{"t":6.6188,"v":-2.38},{"t":6.6199,"v":-2.62},{"t":6.6211,"v":-2.9},{"t":6.6219,"v":-3.06},{"t":6.6226,"v":-2.99},{"t":6.6234,"v":-2.83},{"t":6.6242,"v":-2.57},{"t":6.6249,"v":-2.38},{"t":6.6257,"v":-2.06},{"t":6.6265,"v":-1.92},{"t":6.6273,"v":-1.73},{"t":6.6284,"v":-1.64},{"t":6.6292,"v":-1.36},{"t":6.6299,"v":-1.03},{"t":6.6307,"v":-0.96},{"t":6.6315,"v":-0.98},{"t":6.6323,"v":-1.0},{"t":6.633,"v":-1.26},{"t":6.6338,"v":-1.82},{"t":6.6346,"v":-2.15},{"t":6.6353,"v":-2.48},{"t":6.6361,"v":-2.66},{"t":6.6369,"v":-2.71},{"t":6.6376,"v":-2.8},{"t":6.6382,"v":-2.87},{"t":6.6388,"v":-2.62},{"t":6.6396,"v":-2.43},{"t":6.6403,"v":-2.38},{"t":6.6411,"v":-2.52},{"t":6.6419,"v":-2.2},{"t":6.6426,"v":-1.82},{"t":6.6434,"v":-1.45},{"t":6.6442,"v":-1.17},{"t":6.645,"v":-0.93},{"t":6.6457,"v":-0.93},{"t":6.6465,"v":-1.17},{"t":6.6473,"v":-1.54},{"t":6.648,"v":-2.01},{"t":6.6488,"v":-2.38},{"t":6.6496,"v":-2.66},{"t":6.6503,"v":-2.94},{"t":6.6511,"v":-2.99},{"t":6.6519,"v":-2.93},{"t":6.6527,"v":-2.76},{"t":6.6534,"v":-2.66},{"t":6.6542,"v":-2.57},{"t":6.6552,"v":-2.48},{"t":6.6557,"v":-2.57},{"t":6.6565,"v":-2.85},{"t":6.6573,"v":-2.87},{"t":6.658,"v":-2.66},{"t":6.6588,"v":-2.2},{"t":6.6596,"v":-1.82},{"t":6.6604,"v":-1.07},{"t":6.6611,"v":-0.42},{"t":6.6619,"v":0.05},{"t":6.6624,"v":0.16},{"t":6.663,"v":-0.05},{"t":6.6638,"v":-0.79},{"t":6.6646,"v":-1.64},{"t":6.6654,"v":-2.38},{"t":6.6661,"v":-2.66},{"t":6.6669,"v":-2.85},{"t":6.6677,"v":-2.99},{"t":6.6685,"v":-2.85},{"t":6.6692,"v":-2.48},{"t":6.6696,"v":-2.4},{"t":6.67,"v":-2.76},{"t":6.6707,"v":-2.78},{"t":6.6715,"v":-2.85},{"t":6.6723,"v":-2.8},{"t":6.673,"v":-2.48},{"t":6.6738,"v":-2.2},{"t":6.6746,"v":-1.73},{"t":6.6754,"v":-1.26},{"t":6.6761,"v":-0.89},{"t":6.6769,"v":-0.7},{"t":6.6777,"v":-0.7},{"t":6.6784,"v":-0.89},{"t":6.6792,"v":-1.26},{"t":6.68,"v":-1.82},{"t":6.6808,"v":-2.48},{"t":6.6815,"v":-3.04},{"t":6.6822,"v":-3.43},{"t":6.6831,"v":-3.22},{"t":6.6841,"v":-3.07},{"t":6.6846,"v":-2.94},{"t":6.6854,"v":-2.71},{"t":6.6862,"v":-2.38},{"t":6.6869,"v":-2.01},{"t":6.6877,"v":-1.73},{"t":6.6885,"v":-1.45},{"t":6.6892,"v":-1.07},{"t":6.69,"v":-0.89},{"t":6.6908,"v":-0.93},{"t":6.6915,"v":-0.89},{"t":6.6923,"v":-1.26},{"t":6.6931,"v":-1.64},{"t":6.6938,"v":-2.01},{"t":6.6946,"v":-2.2},{"t":6.6954,"v":-2.48},{"t":6.6962,"v":-2.71},{"t":6.6971,"v":-2.85},{"t":6.6977,"v":-2.94},{"t":6.6985,"v":-2.85},{"t":6.6992,"v":-2.57},{"t":6.7,"v":-2.29}],
"p4r":[{"t":6.6,"v":-2.06},{"t":6.6025,"v":-1.95},{"t":6.605,"v":-1.86},{"t":6.6075,"v":-1.84},{"t":6.61,"v":-1.92},{"t":6.6125,"v":-1.98},{"t":6.615,"v":-1.97},{"t":6.6175,"v":-1.95},{"t":6.62,"v":-2.02},{"t":6.6225,"v":-2.1},{"t":6.625,"v":-2.1},{"t":6.6275,"v":-2.04},{"t":6.63,"v":-2.05},{"t":6.6325,"v":-2.1},{"t":6.635,"v":-2.08},{"t":6.6375,"v":-2.04},{"t":6.64,"v":-2.1},{"t":6.6425,"v":-2.2},{"t":6.645,"v":-2.25},{"t":6.6475,"v":-2.2},{"t":6.65,"v":-2.15},{"t":6.6525,"v":-2.13},{"t":6.655,"v":-2.17},{"t":6.6575,"v":-2.25},{"t":6.66,"v":-2.3},{"t":6.6625,"v":-2.28},{"t":6.665,"v":-2.22},{"t":6.6675,"v":-2.2},{"t":6.67,"v":-2.24},{"t":6.6725,"v":-2.32},{"t":6.675,"v":-2.33},{"t":6.6775,"v":-2.25},{"t":6.68,"v":-2.12},{"t":6.6825,"v":-2.06},{"t":6.685,"v":-2.05},{"t":6.6875,"v":-2.05},{"t":6.69,"v":-2.04},{"t":6.6925,"v":-2.02},{"t":6.695,"v":-2.0},{"t":6.6975,"v":-2.01},{"t":6.7,"v":-2.03}],
"p5":[{"s":0,"t":6.6,"v":2.16},{"s":0,"t":6.6007,"v":2.41},{"s":0,"t":6.6015,"v":2.81},{"s":0,"t":6.6021,"v":3.22},{"s":0,"t":6.6024,"v":3.46},
{"s":1,"t":6.6018,"v":-3.37},{"s":1,"t":6.6034,"v":-2.63},{"s":1,"t":6.6042,"v":-2.31},{"s":1,"t":6.6047,"v":-2.26},{"s":1,"t":6.6057,"v":-1.74},{"s":1,"t":6.6069,"v":-1.09},{"s":1,"t":6.6078,"v":-0.41},{"s":1,"t":6.6088,"v":0.13},{"s":1,"t":6.6093,"v":0.29},{"s":1,"t":6.6099,"v":0.54},{"s":1,"t":6.6111,"v":1.27},{"s":1,"t":6.6116,"v":1.35},{"s":1,"t":6.6126,"v":1.84},{"s":1,"t":6.6138,"v":2.41},{"s":1,"t":6.6145,"v":2.65},{"s":1,"t":6.6157,"v":3.3},{"s":1,"t":6.6161,"v":3.46},
{"s":2,"t":6.6153,"v":-3.37},{"s":2,"t":6.6165,"v":-2.72},{"s":2,"t":6.6176,"v":-2.07},{"s":2,"t":6.6184,"v":-1.9},{"s":2,"t":6.6196,"v":-1.25},{"s":2,"t":6.6207,"v":-0.68},{"s":2,"t":6.6215,"v":-0.57},{"s":2,"t":6.6226,"v":-0.03},{"s":2,"t":6.6236,"v":0.33},{"s":2,"t":6.6246,"v":0.86},{"s":2,"t":6.6257,"v":1.35},{"s":2,"t":6.6265,"v":1.51},{"s":2,"t":6.6276,"v":2.16},{"s":2,"t":6.6288,"v":2.65},{"s":2,"t":6.6299,"v":3.06},{"s":2,"t":6.6307,"v":3.46},
{"s":3,"t":6.6305,"v":-3.37},{"s":3,"t":6.6315,"v":-2.8},{"s":3,"t":6.6326,"v":-2.23},{"s":3,"t":6.6334,"v":-1.98},{"s":3,"t":6.6346,"v":-1.41},{"s":3,"t":6.6357,"v":-0.93},{"s":3,"t":6.6365,"v":-0.68},{"s":3,"t":6.6376,"v":-0.2},{"s":3,"t":6.6382,"v":0.0},{"s":3,"t":6.6392,"v":0.37},{"s":3,"t":6.64,"v":0.62},{"s":3,"t":6.6411,"v":1.02},{"s":3,"t":6.6423,"v":1.67},{"s":3,"t":6.6434,"v":2.16},{"s":3,"t":6.6446,"v":2.65},{"s":3,"t":6.6457,"v":3.3},{"s":3,"t":6.6461,"v":3.46},
{"s":4,"t":6.6457,"v":-3.37},{"s":4,"t":6.6469,"v":-2.72},{"s":4,"t":6.648,"v":-2.15},{"s":4,"t":6.6492,"v":-1.74},{"s":4,"t":6.6503,"v":-1.25},{"s":4,"t":6.6515,"v":-0.85},{"s":4,"t":6.6527,"v":-0.44},{"s":4,"t":6.6538,"v":0.05},{"s":4,"t":6.6552,"v":0.59},{"s":4,"t":6.6557,"v":0.78},{"s":4,"t":6.6563,"v":0.13},{"s":4,"t":6.6569,"v":0.46},{"s":4,"t":6.658,"v":1.02},{"s":4,"t":6.6592,"v":1.51},{"s":4,"t":6.6604,"v":2.16},{"s":4,"t":6.6611,"v":2.65},{"s":4,"t":6.6619,"v":3.14},{"s":4,"t":6.6623,"v":3.46},
{"s":5,"t":6.6621,"v":-3.37},{"s":5,"t":6.663,"v":-2.72},{"s":5,"t":6.6642,"v":-2.15},{"s":5,"t":6.6654,"v":-1.82},{"s":5,"t":6.6665,"v":-1.25},{"s":5,"t":6.6677,"v":-0.85},{"s":5,"t":6.6684,"v":-0.47},{"s":5,"t":6.6692,"v":-0.52},{"s":5,"t":6.67,"v":-0.28},{"s":5,"t":6.6707,"v":-0.36},{"s":5,"t":6.6715,"v":-0.03},{"s":5,"t":6.6727,"v":0.54},{"s":5,"t":6.6738,"v":1.19},{"s":5,"t":6.675,"v":1.76},{"s":5,"t":6.6761,"v":2.41},{"s":5,"t":6.6769,"v":2.98},{"s":5,"t":6.6775,"v":3.46},
{"s":6,"t":6.6771,"v":-3.37},{"s":6,"t":6.6781,"v":-2.72},{"s":6,"t":6.6792,"v":-2.15},{"s":6,"t":6.6804,"v":-1.74},{"s":6,"t":6.6815,"v":-1.25},{"s":6,"t":6.6827,"v":-0.68},{"s":6,"t":6.6834,"v":-0.36},{"s":6,"t":6.6841,"v":-0.13},{"s":6,"t":6.685,"v":0.29},{"s":6,"t":6.6862,"v":0.94},{"s":6,"t":6.6873,"v":1.43},{"s":6,"t":6.6881,"v":2.08},{"s":6,"t":6.6885,"v":1.76},{"s":6,"t":6.6891,"v":1.84},{"s":6,"t":6.69,"v":2.49},{"s":6,"t":6.6908,"v":2.98},{"s":6,"t":6.6914,"v":3.46},
{"s":7,"t":6.6911,"v":-3.37},{"s":7,"t":6.6923,"v":-2.8},{"s":7,"t":6.6934,"v":-2.23},{"s":7,"t":6.6946,"v":-1.74},{"s":7,"t":6.6957,"v":-1.17},{"s":7,"t":6.6965,"v":-0.85},{"s":7,"t":6.6971,"v":-0.6},{"s":7,"t":6.6977,"v":-0.36},{"s":7,"t":6.6985,"v":0.05},{"s":7,"t":6.6992,"v":0.54},{"s":7,"t":6.7,"v":1.11}],
"p6":[{"t":6.6,"v":5.8565},{"t":6.60031,"v":5.885},{"t":6.60092,"v":5.8565},{"t":6.60108,"v":5.828},{"t":6.603,"v":5.771},{"t":6.60339,"v":5.7995},{"t":6.60454,"v":5.771},{"t":6.60701,"v":5.7995},{"t":6.60878,"v":5.828},{"t":6.60901,"v":5.7995},{"t":6.60931,"v":5.828},{"t":6.60978,"v":5.7995},{"t":6.61008,"v":5.771},{"t":6.61039,"v":5.7425},{"t":6.6107,"v":5.714},{"t":6.61093,"v":5.7425},{"t":6.61116,"v":5.714},{"t":6.61147,"v":5.7425},{"t":6.61224,"v":5.771},{"t":6.61255,"v":5.7995},{"t":6.61286,"v":5.8565},{"t":6.61316,"v":5.828},{"t":6.61347,"v":5.8565},{"t":6.61378,"v":5.828},{"t":6.61416,"v":5.8565},{"t":6.61455,"v":5.828},{"t":6.61493,"v":5.8565},{"t":6.61532,"v":5.828},{"t":6.6157,"v":5.8565},{"t":6.61609,"v":5.828},{"t":6.61647,"v":5.8565},{"t":6.61686,"v":5.828},{"t":6.61748,"v":5.7995},{"t":6.61778,"v":5.828},{"t":6.61809,"v":5.7995},{"t":6.6184,"v":5.771},{"t":6.62325,"v":5.7995},{"t":6.6244,"v":5.828},{"t":6.62463,"v":5.8565},{"t":6.62487,"v":5.828},{"t":6.6251,"v":5.7995},{"t":6.62533,"v":5.771},{"t":6.62571,"v":5.7425},{"t":6.62656,"v":5.714},{"t":6.62733,"v":5.7425},{"t":6.6281,"v":5.771},{"t":6.62841,"v":5.7995},{"t":6.63025,"v":5.771},{"t":6.63056,"v":5.7995},{"t":6.63087,"v":5.771},{"t":6.63118,"v":5.7995},{"t":6.63164,"v":5.771},{"t":6.6321,"v":5.7425},{"t":6.63226,"v":5.771},{"t":6.63272,"v":5.7425},{"t":6.63287,"v":5.771},{"t":6.63595,"v":5.7995},{"t":6.63965,"v":5.771},{"t":6.64011,"v":5.7425},{"t":6.64057,"v":5.714},{"t":6.64095,"v":5.6855},{"t":6.64273,"v":5.714},{"t":6.64288,"v":5.7425},{"t":6.64303,"v":5.771},{"t":6.64727,"v":5.7425},{"t":6.6475,"v":5.771},{"t":6.64781,"v":5.714},{"t":6.64811,"v":5.7425},{"t":6.64958,"v":5.771},{"t":6.64996,"v":5.7425},{"t":6.65019,"v":5.771},{"t":6.6505,"v":5.7425},{"t":6.65089,"v":5.771},{"t":6.65119,"v":5.7425},{"t":6.6515,"v":5.771},{"t":6.65189,"v":5.7425},{"t":6.65212,"v":5.771},{"t":6.65481,"v":5.7995},{"t":6.65689,"v":5.771},{"t":6.65735,"v":5.7425},{"t":6.65766,"v":5.714},{"t":6.65804,"v":5.6855},{"t":6.65828,"v":5.657},{"t":6.65966,"v":5.6855},{"t":6.65997,"v":5.714},{"t":6.66035,"v":5.7425},{"t":6.66074,"v":5.714},{"t":6.66105,"v":5.7425},{"t":6.66136,"v":5.714},{"t":6.66166,"v":5.7425},{"t":6.66197,"v":5.714},{"t":6.66228,"v":5.7425},{"t":6.66266,"v":5.714},{"t":6.66367,"v":5.6855},{"t":6.6652,"v":5.657},{"t":6.66551,"v":5.6855},{"t":6.66597,"v":5.657},{"t":6.6662,"v":5.6855},{"t":6.66728,"v":5.714},{"t":6.66767,"v":5.7425},{"t":6.66805,"v":5.771},{"t":6.67182,"v":5.7425},{"t":6.67213,"v":5.714},{"t":6.67244,"v":5.6855},{"t":6.6729,"v":5.657},{"t":6.67521,"v":5.6855},{"t":6.67552,"v":5.714},{"t":6.67583,"v":5.7425},{"t":6.67598,"v":5.714},{"t":6.67721,"v":5.6855},{"t":6.67844,"v":5.657},{"t":6.68014,"v":5.6285},{"t":6.68029,"v":5.657},{"t":6.68152,"v":5.6855},{"t":6.68214,"v":5.714},{"t":6.68276,"v":5.7425},{"t":6.68345,"v":5.771},{"t":6.68437,"v":5.7995},{"t":6.68522,"v":5.828},{"t":6.68553,"v":5.7995},{"t":6.68599,"v":5.771},{"t":6.6863,"v":5.7425},{"t":6.68661,"v":5.714},{"t":6.68691,"v":5.6855},{"t":6.68722,"v":5.657},{"t":6.68822,"v":5.6285},{"t":6.68845,"v":5.657},{"t":6.68961,"v":5.6855},{"t":6.69022,"v":5.657},{"t":6.69045,"v":5.6855},{"t":6.69076,"v":5.657},{"t":6.69107,"v":5.6855},{"t":6.69153,"v":5.657},{"t":6.69192,"v":5.6855},{"t":6.69269,"v":5.657},{"t":6.69492,"v":5.6855},{"t":6.696,"v":5.714},{"t":6.69654,"v":5.7425},{"t":6.69707,"v":5.714},{"t":6.69785,"v":5.6855},{"t":6.69931,"v":5.657},{"t":6.69977,"v":5.6285},{"t":6.7,"v":5.6285}],
"ev":[
{"p":1,"k":"B","t":6.6078,"v":2.14933},{"p":1,"k":"B","t":6.6234,"v":2.14958},{"p":1,"k":"B","t":6.6382,"v":2.15},{"p":1,"k":"B","t":6.6551,"v":2.15051},{"p":1,"k":"B","t":6.6707,"v":2.14951},{"p":1,"k":"B","t":6.6841,"v":2.14931},{"p":1,"k":"B","t":6.6971,"v":2.14966},
{"p":1,"k":"R","t":6.6237,"v":2.14807},{"p":1,"k":"R","t":6.6385,"v":2.14942},{"p":1,"k":"R","t":6.6554,"v":2.14953},{"p":1,"k":"R","t":6.671,"v":2.14834},{"p":1,"k":"R","t":6.6843,"v":2.14841},{"p":1,"k":"R","t":6.6974,"v":2.14923},
{"p":1,"k":"F","t":6.6099,"v":2.14596},{"p":1,"k":"F","t":6.6255,"v":2.14612},{"p":1,"k":"F","t":6.6403,"v":2.1471},{"p":1,"k":"F","t":6.6578,"v":2.14577},{"p":1,"k":"F","t":6.673,"v":2.14644},{"p":1,"k":"F","t":6.6863,"v":2.14603},
{"p":2,"k":"B","t":6.6078,"v":0.0},{"p":2,"k":"B","t":6.6234,"v":0.3},{"p":2,"k":"B","t":6.6382,"v":-0.1},{"p":2,"k":"B","t":6.6551,"v":0.55},{"p":2,"k":"B","t":6.6707,"v":0.0},{"p":2,"k":"B","t":6.6841,"v":0.1},{"p":2,"k":"B","t":6.6971,"v":0.2},
{"p":2,"k":"R","t":6.6082,"v":2.85},{"p":2,"k":"R","t":6.6237,"v":2.7},{"p":2,"k":"R","t":6.6385,"v":2.8},{"p":2,"k":"R","t":6.6554,"v":2.5},{"p":2,"k":"R","t":6.671,"v":2.75},{"p":2,"k":"R","t":6.6843,"v":2.5},{"p":2,"k":"R","t":6.6974,"v":3.2},
{"p":2,"k":"F","t":6.6099,"v":4.6},{"p":2,"k":"F","t":6.6255,"v":4.3},{"p":2,"k":"F","t":6.6403,"v":4.5},{"p":2,"k":"F","t":6.6578,"v":4.5},{"p":2,"k":"F","t":6.673,"v":4.5},{"p":2,"k":"F","t":6.6863,"v":4.1},
{"p":3,"k":"B","t":6.6078,"v":2.7397},{"p":3,"k":"B","t":6.6234,"v":2.765},{"p":3,"k":"B","t":6.6382,"v":2.779},{"p":3,"k":"B","t":6.6551,"v":2.792},{"p":3,"k":"B","t":6.6707,"v":2.8},{"p":3,"k":"B","t":6.6841,"v":2.743},{"p":3,"k":"B","t":6.6971,"v":2.722},
{"p":3,"k":"R","t":6.6082,"v":2.727},{"p":3,"k":"R","t":6.6237,"v":2.735},{"p":3,"k":"R","t":6.6385,"v":2.759},{"p":3,"k":"R","t":6.6554,"v":2.799},{"p":3,"k":"R","t":6.671,"v":2.76},{"p":3,"k":"R","t":6.6843,"v":2.708},{"p":3,"k":"R","t":6.6974,"v":2.71},
{"p":3,"k":"F","t":6.6099,"v":2.632},{"p":3,"k":"F","t":6.6255,"v":2.664},{"p":3,"k":"F","t":6.6403,"v":2.701},{"p":3,"k":"F","t":6.6578,"v":2.635},{"p":3,"k":"F","t":6.673,"v":2.64},{"p":3,"k":"F","t":6.6863,"v":2.648},
{"p":4,"k":"B","t":6.6078,"v":-2.83},{"p":4,"k":"B","t":6.6234,"v":-2.83},{"p":4,"k":"B","t":6.6382,"v":-2.87},{"p":4,"k":"B","t":6.6551,"v":-2.48},{"p":4,"k":"B","t":6.6707,"v":-2.78},{"p":4,"k":"B","t":6.6841,"v":-3.07},{"p":4,"k":"B","t":6.6971,"v":-2.85},
{"p":4,"k":"R","t":6.6082,"v":-2.99},{"p":4,"k":"R","t":6.6237,"v":-2.64},{"p":4,"k":"R","t":6.6385,"v":-2.71},{"p":4,"k":"R","t":6.6554,"v":-2.48},{"p":4,"k":"R","t":6.671,"v":-2.68},{"p":4,"k":"R","t":6.6843,"v":-3.07},{"p":4,"k":"R","t":6.6974,"v":-2.99},
{"p":5,"k":"B","t":6.6078,"v":-0.41},{"p":5,"k":"B","t":6.6234,"v":0.33},{"p":5,"k":"B","t":6.6382,"v":-0.03},{"p":5,"k":"B","t":6.6551,"v":0.59},{"p":5,"k":"B","t":6.6707,"v":-0.36},{"p":5,"k":"B","t":6.6841,"v":-0.13},{"p":5,"k":"B","t":6.6971,"v":-0.6},
{"p":5,"k":"R","t":6.6082,"v":-0.08},{"p":5,"k":"R","t":6.6237,"v":0.37},{"p":5,"k":"R","t":6.6385,"v":0.21},{"p":5,"k":"R","t":6.6554,"v":0.65},{"p":5,"k":"R","t":6.671,"v":-0.31},{"p":5,"k":"R","t":6.6843,"v":0.13},{"p":5,"k":"R","t":6.6974,"v":-0.33},
{"p":6,"k":"B","t":6.6078,"v":5.8},{"p":6,"k":"B","t":6.6234,"v":5.7987},{"p":6,"k":"B","t":6.6382,"v":5.8066},{"p":6,"k":"B","t":6.6551,"v":5.7987},{"p":6,"k":"B","t":6.6707,"v":5.7718},{"p":6,"k":"B","t":6.6841,"v":5.7705},{"p":6,"k":"B","t":6.6971,"v":5.7147},
{"p":6,"k":"R","t":6.6082,"v":5.8},{"p":6,"k":"R","t":6.6237,"v":5.7987},{"p":6,"k":"R","t":6.6385,"v":5.798},{"p":6,"k":"R","t":6.6554,"v":5.7987},{"p":6,"k":"R","t":6.671,"v":5.7718},{"p":6,"k":"R","t":6.6843,"v":5.798},{"p":6,"k":"R","t":6.6974,"v":5.7147}],
"box":[{"p":1,"t1":6.6013,"t2":6.6116,"v1":2.14955,"v2":2.15084},{"p":2,"t1":6.6013,"t2":6.6247,"v1":10.34,"v2":13.96},{"p":3,"t1":6.6013,"t2":6.6153,"v1":2.7508,"v2":2.8063},{"p":4,"t1":6.6013,"t2":6.6092,"v1":-0.732,"v2":0.082},{"p":5,"t1":6.6013,"t2":6.6135,"v1":1.612,"v2":3.074},{"p":6,"t1":6.6013,"t2":6.609,"v1":5.819,"v2":5.8761}],
"lab":[{"p":1,"t":6.603,"v":2.1502,"s":"R","r":"m"},{"p":1,"t":6.6052,"v":2.14994,"s":"out","r":"s"},
{"p":2,"t":6.6027,"v":12.15,"s":"ELM monitor","r":"m"},
{"p":3,"t":6.6027,"v":2.7786,"s":"W","r":"m"},{"p":3,"t":6.6058,"v":2.769,"s":"MHD","r":"s"},
{"p":4,"t":6.603,"v":-0.325,"s":"I","r":"m"},{"p":4,"t":6.60455,"v":-0.157,"s":"u","r":"s"},{"p":4,"t":6.6044,"v":-0.47,"s":"C","r":"s"},
{"p":5,"t":6.6025,"v":2.343,"s":"ϕ(I","r":"m"},{"p":5,"t":6.6072,"v":2.645,"s":"u","r":"s"},{"p":5,"t":6.6071,"v":2.09,"s":"C","r":"s"},{"p":5,"t":6.609,"v":2.343,"s":")","r":"m"},
{"p":6,"t":6.603,"v":5.8476,"s":"n̄","r":"m"},{"p":6,"t":6.6048,"v":5.8377,"s":"e","r":"s"}],
"ann":[{"t":6.666,"v":5.67,"s":"t","k":"R","r":"m"},{"t":6.6673,"v":4.62,"s":"R","k":"R","r":"s"},{"t":6.6652,"v":2.14,"s":"t","k":"B","r":"m"},{"t":6.6663,"v":1.05,"s":"B","k":"B","r":"s"},{"t":6.6748,"v":6.85,"s":"t","k":"F","r":"m"},{"t":6.6761,"v":6.0,"s":"F","k":"F","r":"s"}]
},
"vconcat":[
{"width":510,"height":128,
"encoding":{"x":{"field":"t","type":"quantitative","scale":{"domain":[6.6,6.7],"nice":false,"zero":false},"axis":null},"y":{"field":"v","type":"quantitative","scale":{"domain":[2.1453,2.151],"nice":false,"zero":false},"axis":null}},
"layer":[
{"data":{"name":"p1"},"mark":{"type":"line","color":"black","strokeWidth":1,"clip":true},
"encoding":{"x":{"field":"t","type":"quantitative","scale":{"domain":[6.6,6.7],"nice":false,"zero":false},"axis":{"orient":"bottom","values":[6.6,6.62,6.64,6.66,6.68,6.7],"labels":false,"title":null}},
"y":{"field":"v","type":"quantitative","scale":{"domain":[2.1453,2.151],"nice":false,"zero":false},"axis":{"orient":"left","values":[2.146,2.148,2.15],"format":"~g","title":"m"}}}},
{"data":{"name":"box"},"transform":[{"filter":"datum.p==1"}],"mark":{"type":"rect","fill":"white","stroke":"#262626","strokeWidth":1},
"encoding":{"x":{"field":"t1","type":"quantitative","scale":{"domain":[6.6,6.7],"nice":false,"zero":false},"axis":{"orient":"top","values":[6.6,6.62,6.64,6.66,6.68,6.7],"format":"~g","title":null,"labelPadding":12}},"x2":{"field":"t2"},
"y":{"field":"v1","type":"quantitative","scale":{"domain":[2.1453,2.151],"nice":false,"zero":false},"axis":{"orient":"right","values":[2.146,2.148,2.15],"labels":false,"title":null}},"y2":{"field":"v2"}}},
{"data":{"name":"lab"},"transform":[{"filter":"datum.p==1"}],"mark":{"type":"text","font":"Liberation Serif","fontStyle":"italic","align":"left","baseline":"middle","color":"black"},
"encoding":{"text":{"field":"s"},"size":{"field":"r","type":"ordinal","scale":{"domain":["m","s"],"range":[17,11]},"legend":null}}},
{"data":{"name":"ev"},"transform":[{"filter":"datum.p==1 && datum.k!='R'"}],"mark":{"type":"circle","size":60,"opacity":1},
"encoding":{"color":{"field":"k","type":"nominal","scale":{"domain":["B","R","F"],"range":["#0000ff","#0000ff","#ff0000"]},"legend":null}}},
{"data":{"name":"ev"},"transform":[{"filter":"datum.p==1 && datum.k=='R'"}],"mark":{"type":"point","shape":"circle","filled":false,"size":55,"color":"#0000ff","strokeWidth":1,"opacity":1},"encoding":{}}
],
"resolve":{"axis":{"x":"independent","y":"independent"}}},

{"width":510,"height":128,
"encoding":{"x":{"field":"t","type":"quantitative","scale":{"domain":[6.6,6.7],"nice":false,"zero":false},"axis":null},"y":{"field":"v","type":"quantitative","scale":{"domain":[-1.6,14.4],"nice":false,"zero":false},"axis":null}},
"layer":[
{"data":{"name":"p2"},"mark":{"type":"line","color":"black","strokeWidth":1,"clip":true},
"encoding":{"x":{"field":"t","type":"quantitative","scale":{"domain":[6.6,6.7],"nice":false,"zero":false},"axis":{"orient":"bottom","values":[6.6,6.62,6.64,6.66,6.68,6.7],"labels":false,"title":null}},
"y":{"field":"v","type":"quantitative","scale":{"domain":[-1.6,14.4],"nice":false,"zero":false},"axis":{"orient":"left","values":[0,5,10],"format":"d","title":"A × 10³"}}}},
{"data":{"name":"p2r"},"mark":{"type":"line","color":"#ff0000","strokeWidth":2,"interpolate":"monotone","clip":true},"encoding":{}},
{"data":{"name":"p2g"},"mark":{"type":"line","color":"#00ee00","strokeWidth":2,"interpolate":"monotone","clip":true},"encoding":{}},
{"data":{"name":"box"},"transform":[{"filter":"datum.p==2"}],"mark":{"type":"rect","fill":"white","stroke":"#262626","strokeWidth":1},
"encoding":{"x":{"field":"t1","type":"quantitative","scale":{"domain":[6.6,6.7],"nice":false,"zero":false},"axis":{"orient":"top","values":[6.6,6.62,6.64,6.66,6.68,6.7],"labels":false,"title":null}},"x2":{"field":"t2"},
"y":{"field":"v1","type":"quantitative","scale":{"domain":[-1.6,14.4],"nice":false,"zero":false},"axis":{"orient":"right","values":[0,5,10],"labels":false,"title":null}},"y2":{"field":"v2"}}},
{"data":{"name":"lab"},"transform":[{"filter":"datum.p==2"}],"mark":{"type":"text","font":"Liberation Serif","fontSize":16,"align":"left","baseline":"middle","color":"black"},
"encoding":{"text":{"field":"s"}}},
{"data":{"name":"ann"},"mark":{"type":"text","font":"Liberation Sans","align":"left","baseline":"middle"},
"encoding":{"text":{"field":"s"},"size":{"field":"r","type":"ordinal","scale":{"domain":["m","s"],"range":[17,14]},"legend":null},"color":{"field":"k","type":"nominal","scale":{"domain":["B","R","F"],"range":["#0000ff","#0000ff","#ff0000"]},"legend":null}}},
{"data":{"name":"ev"},"transform":[{"filter":"datum.p==2 && datum.k!='R'"}],"mark":{"type":"circle","size":60,"opacity":1},
"encoding":{"color":{"field":"k","type":"nominal","scale":{"domain":["B","R","F"],"range":["#0000ff","#0000ff","#ff0000"]},"legend":null}}},
{"data":{"name":"ev"},"transform":[{"filter":"datum.p==2 && datum.k=='R'"}],"mark":{"type":"point","shape":"circle","filled":false,"size":55,"color":"#0000ff","strokeWidth":1,"opacity":1},"encoding":{}}
],
"resolve":{"axis":{"x":"independent","y":"independent"}}},

{"width":510,"height":128,
"encoding":{"x":{"field":"t","type":"quantitative","scale":{"domain":[6.6,6.7],"nice":false,"zero":false},"axis":null},"y":{"field":"v","type":"quantitative","scale":{"domain":[2.568,2.813],"nice":false,"zero":false},"axis":null}},
"layer":[
{"data":{"name":"p3"},"mark":{"type":"line","color":"black","strokeWidth":1,"clip":true},
"encoding":{"x":{"field":"t","type":"quantitative","scale":{"domain":[6.6,6.7],"nice":false,"zero":false},"axis":{"orient":"bottom","values":[6.6,6.62,6.64,6.66,6.68,6.7],"labels":false,"title":null}},
"y":{"field":"v","type":"quantitative","scale":{"domain":[2.568,2.813],"nice":false,"zero":false},"axis":{"orient":"left","values":[2.6,2.7,2.8],"format":"~g","title":"J × 10⁵"}}}},
{"data":{"name":"box"},"transform":[{"filter":"datum.p==3"}],"mark":{"type":"rect","fill":"white","stroke":"#262626","strokeWidth":1},
"encoding":{"x":{"field":"t1","type":"quantitative","scale":{"domain":[6.6,6.7],"nice":false,"zero":false},"axis":{"orient":"top","values":[6.6,6.62,6.64,6.66,6.68,6.7],"labels":false,"title":null}},"x2":{"field":"t2"},
"y":{"field":"v1","type":"quantitative","scale":{"domain":[2.568,2.813],"nice":false,"zero":false},"axis":{"orient":"right","values":[2.6,2.7,2.8],"labels":false,"title":null}},"y2":{"field":"v2"}}},
{"data":{"name":"lab"},"transform":[{"filter":"datum.p==3"}],"mark":{"type":"text","font":"Liberation Serif","fontStyle":"italic","align":"left","baseline":"middle","color":"black"},
"encoding":{"text":{"field":"s"},"size":{"field":"r","type":"ordinal","scale":{"domain":["m","s"],"range":[17,11]},"legend":null}}},
{"data":{"name":"ev"},"transform":[{"filter":"datum.p==3 && datum.k!='R'"}],"mark":{"type":"circle","size":60,"opacity":1},
"encoding":{"color":{"field":"k","type":"nominal","scale":{"domain":["B","R","F"],"range":["#0000ff","#0000ff","#ff0000"]},"legend":null}}},
{"data":{"name":"ev"},"transform":[{"filter":"datum.p==3 && datum.k=='R'"}],"mark":{"type":"point","shape":"circle","filled":false,"size":55,"color":"#0000ff","strokeWidth":1,"opacity":1},"encoding":{}}
],
"resolve":{"axis":{"x":"independent","y":"independent"}}},

{"width":510,"height":128,
"encoding":{"x":{"field":"t","type":"quantitative","scale":{"domain":[6.6,6.7],"nice":false,"zero":false},"axis":null},"y":{"field":"v","type":"quantitative","scale":{"domain":[-3.41,0.18],"nice":false,"zero":false},"axis":null}},
"layer":[
{"data":{"name":"p4"},"mark":{"type":"line","color":"black","strokeWidth":1,"clip":true},
"encoding":{"x":{"field":"t","type":"quantitative","scale":{"domain":[6.6,6.7],"nice":false,"zero":false},"axis":{"orient":"bottom","values":[6.6,6.62,6.64,6.66,6.68,6.7],"labels":false,"title":null}},
"y":{"field":"v","type":"quantitative","scale":{"domain":[-3.41,0.18],"nice":false,"zero":false},"axis":{"orient":"left","values":[-3,-2,-1,0],"format":"~g","labelExpr":"replace(datum.label,'\u2212','-')","title":"A × 10⁴"}}}},
{"data":{"name":"p4r"},"mark":{"type":"line","color":"#ff0000","strokeWidth":2,"interpolate":"monotone","clip":true},"encoding":{}},
{"data":{"name":"box"},"transform":[{"filter":"datum.p==4"}],"mark":{"type":"rect","fill":"white","stroke":"#262626","strokeWidth":1},
"encoding":{"x":{"field":"t1","type":"quantitative","scale":{"domain":[6.6,6.7],"nice":false,"zero":false},"axis":{"orient":"top","values":[6.6,6.62,6.64,6.66,6.68,6.7],"labels":false,"title":null}},"x2":{"field":"t2"},
"y":{"field":"v1","type":"quantitative","scale":{"domain":[-3.41,0.18],"nice":false,"zero":false},"axis":{"orient":"right","values":[-3,-2,-1,0],"labels":false,"title":null}},"y2":{"field":"v2"}}},
{"data":{"name":"lab"},"transform":[{"filter":"datum.p==4"}],"mark":{"type":"text","font":"Liberation Serif","fontStyle":"italic","align":"left","baseline":"middle","color":"black"},
"encoding":{"text":{"field":"s"},"size":{"field":"r","type":"ordinal","scale":{"domain":["m","s"],"range":[17,11]},"legend":null}}},
{"data":{"name":"ev"},"transform":[{"filter":"datum.p==4 && datum.k!='R'"}],"mark":{"type":"circle","size":60,"opacity":1},
"encoding":{"color":{"field":"k","type":"nominal","scale":{"domain":["B","R","F"],"range":["#0000ff","#0000ff","#ff0000"]},"legend":null}}},
{"data":{"name":"ev"},"transform":[{"filter":"datum.p==4 && datum.k=='R'"}],"mark":{"type":"point","shape":"circle","filled":false,"size":55,"color":"#0000ff","strokeWidth":1,"opacity":1},"encoding":{}}
],
"resolve":{"axis":{"x":"independent","y":"independent"}}},

{"width":510,"height":128,
"encoding":{"x":{"field":"t","type":"quantitative","scale":{"domain":[6.6,6.7],"nice":false,"zero":false},"axis":null},"y":{"field":"v","type":"quantitative","scale":{"domain":[-3.2,3.25],"nice":false,"zero":false},"axis":null}},
"layer":[
{"data":{"name":"p5"},"mark":{"type":"line","color":"black","strokeWidth":0.8,"clip":true},
"encoding":{"x":{"field":"t","type":"quantitative","scale":{"domain":[6.6,6.7],"nice":false,"zero":false},"axis":{"orient":"bottom","values":[6.6,6.62,6.64,6.66,6.68,6.7],"labels":false,"title":null}},
"y":{"field":"v","type":"quantitative","scale":{"domain":[-3.2,3.25],"nice":false,"zero":false},"axis":{"orient":"left","values":[-2,0,2],"format":"~g","labelExpr":"replace(datum.label,'\u2212','-')","title":null}},"detail":{"field":"s","type":"nominal"}}},
{"data":{"name":"box"},"transform":[{"filter":"datum.p==5"}],"mark":{"type":"rect","fill":"white","stroke":"#262626","strokeWidth":1},
"encoding":{"x":{"field":"t1","type":"quantitative","scale":{"domain":[6.6,6.7],"nice":false,"zero":false},"axis":{"orient":"top","values":[6.6,6.62,6.64,6.66,6.68,6.7],"labels":false,"title":null}},"x2":{"field":"t2"},
"y":{"field":"v1","type":"quantitative","scale":{"domain":[-3.2,3.25],"nice":false,"zero":false},"axis":{"orient":"right","values":[-2,0,2],"labels":false,"title":null}},"y2":{"field":"v2"}}},
{"data":{"name":"lab"},"transform":[{"filter":"datum.p==5"}],"mark":{"type":"text","font":"Liberation Serif","fontStyle":"italic","align":"left","baseline":"middle","color":"black"},
"encoding":{"text":{"field":"s"},"size":{"field":"r","type":"ordinal","scale":{"domain":["m","s"],"range":[17,11]},"legend":null}}},
{"data":{"name":"ev"},"transform":[{"filter":"datum.p==5 && datum.k!='R'"}],"mark":{"type":"circle","size":60,"opacity":1},
"encoding":{"color":{"field":"k","type":"nominal","scale":{"domain":["B","R","F"],"range":["#0000ff","#0000ff","#ff0000"]},"legend":null}}},
{"data":{"name":"ev"},"transform":[{"filter":"datum.p==5 && datum.k=='R'"}],"mark":{"type":"point","shape":"circle","filled":false,"size":55,"color":"#0000ff","strokeWidth":1,"opacity":1},"encoding":{}}
],
"resolve":{"axis":{"x":"independent","y":"independent"}}},

{"width":510,"height":128,
"encoding":{"x":{"field":"t","type":"quantitative","scale":{"domain":[6.6,6.7],"nice":false,"zero":false},"axis":null},"y":{"field":"v","type":"quantitative","scale":{"domain":[5.631,5.883],"nice":false,"zero":false},"axis":null}},
"layer":[
{"data":{"name":"p6"},"mark":{"type":"line","color":"black","strokeWidth":1.2,"interpolate":"step-after","clip":true},
"encoding":{"x":{"field":"t","type":"quantitative","scale":{"domain":[6.6,6.7],"nice":false,"zero":false},"axis":{"orient":"bottom","values":[6.6,6.62,6.64,6.66,6.68,6.7],"format":"~g","title":"t(s)","labelPadding":12,"titlePadding":8}},
"y":{"field":"v","type":"quantitative","scale":{"domain":[5.631,5.883],"nice":false,"zero":false},"axis":{"orient":"left","values":[5.65,5.7,5.75,5.8,5.85],"format":"~g","title":"10¹⁹ m⁻³"}}}},
{"data":{"name":"box"},"transform":[{"filter":"datum.p==6"}],"mark":{"type":"rect","fill":"white","stroke":"#262626","strokeWidth":1},
"encoding":{"x":{"field":"t1","type":"quantitative","scale":{"domain":[6.6,6.7],"nice":false,"zero":false},"axis":{"orient":"top","values":[6.6,6.62,6.64,6.66,6.68,6.7],"labels":false,"title":null}},"x2":{"field":"t2"},
"y":{"field":"v1","type":"quantitative","scale":{"domain":[5.631,5.883],"nice":false,"zero":false},"axis":{"orient":"right","values":[5.65,5.7,5.75,5.8,5.85],"labels":false,"title":null}},"y2":{"field":"v2"}}},
{"data":{"name":"lab"},"transform":[{"filter":"datum.p==6"}],"mark":{"type":"text","font":"Liberation Serif","fontStyle":"italic","align":"left","baseline":"middle","color":"black"},
"encoding":{"text":{"field":"s"},"size":{"field":"r","type":"ordinal","scale":{"domain":["m","s"],"range":[17,11]},"legend":null}}},
{"data":{"name":"ev"},"transform":[{"filter":"datum.p==6 && datum.k!='R'"}],"mark":{"type":"circle","size":60,"opacity":1},
"encoding":{"color":{"field":"k","type":"nominal","scale":{"domain":["B","R","F"],"range":["#0000ff","#0000ff","#ff0000"]},"legend":null}}},
{"data":{"name":"ev"},"transform":[{"filter":"datum.p==6 && datum.k=='R'"}],"mark":{"type":"point","shape":"circle","filled":false,"size":55,"color":"#0000ff","strokeWidth":1,"opacity":1},"encoding":{}}
],
"resolve":{"axis":{"x":"independent","y":"independent"}}}
],
"config":{
"font":"Liberation Sans",
"view":{"stroke":"#262626","strokeWidth":1},
"axis":{"grid":false,"domain":false,"ticks":true,"tickColor":"#262626","tickSize":-5,"tickWidth":1,"labelFont":"Liberation Sans","labelFontSize":15,"labelColor":"#262626","labelPadding":11,"titleFont":"Liberation Sans","titleFontSize":15,"titleFontWeight":"normal","titleColor":"#262626","titlePadding":7}
}
}
